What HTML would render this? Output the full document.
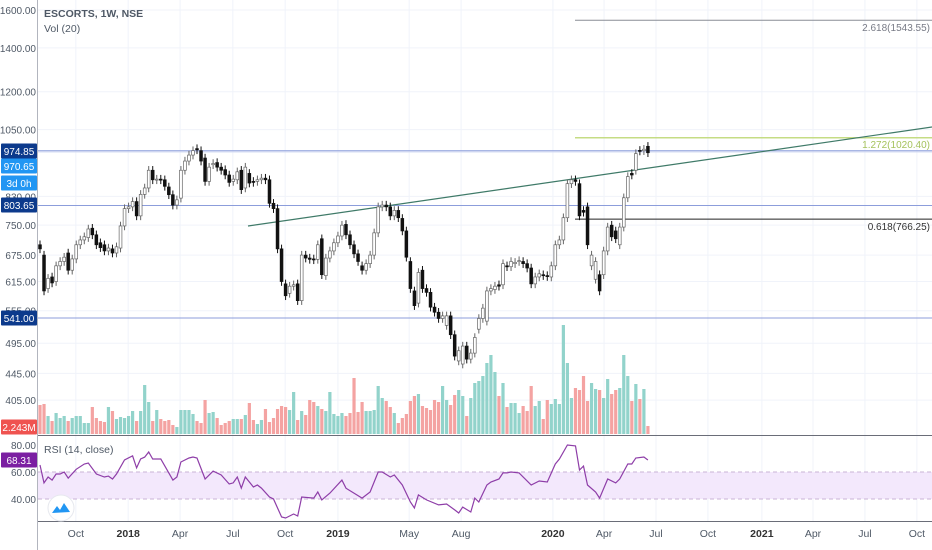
<!DOCTYPE html>
<html><head><meta charset="utf-8">
<style>
html,body{margin:0;padding:0;background:#fff;}
svg{display:block;font-family:"Liberation Sans",sans-serif;}
</style></head>
<body>
<svg id="chart" width="932" height="550" viewBox="0 0 932 550" xmlns="http://www.w3.org/2000/svg">
  <rect x="0" y="0" width="932" height="550" fill="#fff"/>
  <g id="grid"></g>
  <rect x="38" y="472" width="894" height="27" fill="#f3e8fc"/>
  <line x1="38" y1="472" x2="932" y2="472" stroke="#c9b3d6" stroke-dasharray="4,3"/>
  <line x1="38" y1="499" x2="932" y2="499" stroke="#c9b3d6" stroke-dasharray="4,3"/>
  <g id="vol"></g>
  <g id="hlines"></g>
  <g id="candles"></g>
  <g id="rsi"></g>
  <line x1="37.5" y1="0" x2="37.5" y2="550" stroke="#b2b5be"/>
  <line x1="38" y1="435.5" x2="932" y2="435.5" stroke="#6a6d78"/>
  <line x1="38" y1="521.5" x2="932" y2="521.5" stroke="#6a6d78"/>
  <g id="yaxis" font-size="10" fill="#4f5966" text-anchor="end"></g>
  <g id="xaxis" font-size="10.5" fill="#4f5966" text-anchor="middle"></g>
  <text x="44" y="17" font-size="10.5" fill="#4f5966" font-weight="bold">ESCORTS, 1W, NSE</text>
  <text x="44" y="32" font-size="10.5" fill="#4f5966">Vol (20)</text>
  <text x="44" y="453" font-size="10.5" fill="#4f5966">RSI (14, close)</text>
  <text x="930" y="31" font-size="10" fill="#787b86" text-anchor="end">2.618(1543.55)</text>
  <text x="930" y="148" font-size="10" fill="#a5c25c" text-anchor="end">1.272(1020.40)</text>
  <text x="930" y="230" font-size="10" fill="#333" text-anchor="end">0.618(766.25)</text>
  <g id="badges" font-size="10" fill="#fff" text-anchor="middle"></g>
  <g>
    <circle cx="61" cy="508" r="13" fill="#fff" stroke="#e6e8ee"/>
    <path d="M52 513 L57 506 L60 510 L64 503 L70 512 Z" fill="#2196f3"/>
  </g>
</svg>
<script>
const opens = [700,675,600,625,615,650,660,680,640,666,700,712,718,742,725,705,700,685,690,680,692,748,795,800,815,775,836,855,910,880,882,880,858,835,805,825,910,940,960,982,975,950,875,928,935,920,912,895,875,880,910,855,900,
875,875,880,885,880,810,795,690,610,590,605,610,575,675,668,666,665,715,628,668,685,705,722,752,725,700,678,650,640,655,675,730,800,805,800,775,790,768,735,660,595,570,640,600,592,562,552,540,527,545,510,465,460,490,
468,478,520,540,535,595,598,608,608,650,648,655,660,660,655,645,610,625,630,628,625,650,700,712,770,868,880,868,790,800,650,620,630,630,685,750,735,700,745,826,900,910,976,975,990];
const closes = [690,595,622,612,650,660,670,640,666,700,712,720,740,725,700,693,685,692,680,695,748,795,800,815,775,836,855,910,880,882,880,860,835,805,820,910,940,960,975,978,940,875,920,932,920,910,895,872,882,905,850,920,870,
872,880,885,880,810,795,690,615,585,605,608,575,675,668,665,664,700,630,668,685,705,722,750,725,700,678,660,640,655,675,730,800,805,800,775,790,770,735,670,600,565,635,600,592,562,552,540,545,545,510,473,482,490,468,
478,505,540,560,595,600,605,605,655,648,660,658,662,655,645,610,625,632,628,626,650,700,712,770,868,880,875,775,785,700,675,660,595,685,745,720,715,745,826,890,895,965,974,980,968];
const volumes = [29,30,18,13,21,16,18,13,16,18,18,11,11,27,16,13,12,27,23,15,17,16,18,23,13,23,49,32,13,24,15,13,14,9,7,24,24,24,20,13,11,34,21,22,16,9,11,13,15,15,15,19,31,14,10,14,25,12,16,25,28,27,24,42,14,23,19,34,32,28,25,23,42,20,18,
21,18,21,56,22,32,23,23,24,48,36,33,27,21,11,16,20,33,38,40,28,26,24,34,32,48,34,29,39,44,38,18,36,51,53,58,71,79,62,38,51,27,31,31,21,28,23,48,28,33,15,34,30,35,30,109,71,36,46,44,58,33,51,45,44,36,55,40,44,46,79,58,33,50,35,45,8];
const rsiWeek = [0,1,2,3,4,5,6,7,9,11,12,14,16,17,18,19,21,23,24,25,26,27,28,30,33,34,35,37,38,39,41,43,45,47,48,49,50,51,53,54,55,57,58,60,61,63,64,65,68,69,70,72,75,76,80,82,84,85,87,88,90,92,93,94,96,99,101,103,104,105,107,108,109,111,112,114,115,116,117,119,122,124,126,128,129,131,133,134,135,136,138,139,141,143,144,146,147,148,150,151];
const rsiVal = [65.2,51.9,56.3,54,58.5,58.5,60,55.5,62,65.9,66.7,58.5,56.3,57,54.8,58.5,68.9,71.9,63,69.6,71,74.8,69.6,69.6,54,56.3,67.4,70.4,71.1,70.4,54.8,60.7,57.8,51.1,51.9,56.3,48.1,56.3,48.9,50.4,48.1,41.5,40,26.7,25.9,28.9,27.4,41.5,40.7,45.2,39.3,44.4,54,48,40.7,45.2,60,60,56.3,57.8,50.4,37.8,33.3,43,39.3,35.6,36.3,31.9,29.6,34,30.4,40.7,37.8,50.4,52.6,54.8,59.3,59.3,60,59.3,50.4,53.3,52.6,65.9,69.6,80,79.3,61.5,64.4,50.4,45.2,40.7,54.8,51.9,54.8,65.9,65.9,70.4,71.1,68.9];
const priceTicks = [1600,1400,1200,1050,830,750,675,615,555,495,445,405];
const timeLabels = ["Oct","2018","Apr","Jul","Oct","2019","May","Aug","2020","Apr","Jul","Oct","2021","Apr","Jul","Oct"];
const timeWeeks = [8.9,21.9,34.8,47.9,60.9,74,91.7,104.6,127.4,140.1,153,165.9,179.3,192,204.9,217.8];
const rsiTicks = [80,60,40];

const NS="http://www.w3.org/2000/svg";
function mk(tag,attrs,parent){const e=document.createElementNS(NS,tag);for(const k in attrs)e.setAttribute(k,attrs[k]);parent.appendChild(e);return e;}
const xI = i => 40 + i*4.026;
const yP = p => 10 + Math.log(1600/p)*284;
const yV = v => 434 - v;
const yR = v => 472 - (v-60)*1.35;

const grid=document.getElementById('grid');
priceTicks.forEach(p=>{
  const l=mk('line',{x1:38,x2:932,y1:yP(p),y2:yP(p),stroke:'#f0f3fa'},grid);
  
  
});
timeWeeks.forEach(w=>{
  const l=mk('line',{x1:xI(w),x2:xI(w),y1:0,y2:521,stroke:'#f0f3fa'},grid);
  
  
});

const ya=document.getElementById('yaxis');
priceTicks.forEach(p=>{
  const t=mk('text',{x:36,y:yP(p)+4},ya);t.textContent=p.toFixed(2);
  
  
});
rsiTicks.forEach(v=>{
  const t=mk('text',{x:36,y:yR(v)+4},ya);t.textContent=v.toFixed(2);
  
  
});
const xa=document.getElementById('xaxis');
timeLabels.forEach((s,k)=>{
  const t=mk('text',{x:xI(timeWeeks[k]),y:537},xa);t.textContent=s;
  if(/^\d{4}$/.test(s)){t.setAttribute('font-weight','bold');t.setAttribute('fill','#333');}
  
  
});

const hl=document.getElementById('hlines');
[[974.85,'#8c9ddb'],[970.65,'#d6dcf3'],[803.65,'#8c9ddb'],[541,'#8c9ddb']].forEach(([p,c])=>{
  const l=mk('line',{x1:38,x2:932,y1:yP(p),y2:yP(p),stroke:c},hl);
  
  
});
let l;
l=mk('line',{x1:575,x2:932,y1:yP(1543.55),y2:yP(1543.55),stroke:'#8a8d96'},hl);


l=mk('line',{x1:575,x2:932,y1:yP(1020.4),y2:yP(1020.4),stroke:'#c5dc84','stroke-width':1.5},hl);


l=mk('line',{x1:575,x2:932,y1:yP(766.25),y2:yP(766.25),stroke:'#222'},hl);


l=mk('line',{x1:248,y1:226,x2:932,y2:127,stroke:'#3f7a68','stroke-width':1.2},hl);



const vg=document.getElementById('vol');
volumes.forEach((v,i)=>{
  const up=closes[i]>=opens[i];
  const r=mk('rect',{x:xI(i)-1.6,y:yV(v),width:3.2,height:v,fill:up?'#92d3cb':'#f4a3a2'},vg);
  
  
});

const cg=document.getElementById('candles');
opens.forEach((o,i)=>{
  const c=closes[i],up=c>=o,x=xI(i);
  const top=Math.max(o,c)*1.015, bot=Math.min(o,c)*0.985;
  const w=mk('line',{x1:x,x2:x,y1:yP(top),y2:yP(bot),stroke:up?'#666':'#111'},cg);
  
  
  const y1=yP(Math.max(o,c)),y2=yP(Math.min(o,c));
  const b=mk('rect',{x:x-1.4,y:y1,width:2.8,height:Math.max(1,y2-y1),fill:up?'#fff':'#111',stroke:up?'#666':'#111','stroke-width':0.7},cg);
  
  
});

const rg=document.getElementById('rsi');
const pts=rsiWeek.map((w,k)=>xI(w).toFixed(1)+','+yR(rsiVal[k]).toFixed(1)).join(' ');
const pl=mk('polyline',{points:pts,fill:'none',stroke:'#8e3ea8','stroke-width':1.2},rg);



const bg=document.getElementById('badges');
[[151,'#0c3a8c','974.85'],[166,'#2196f3','970.65'],[183,'#2196f3','3d 0h'],[205,'#0c3a8c','803.65'],[318,'#0c3a8c','541.00'],[427,'#ef5350','2.243M'],[460,'#7b1fa2','68.31']].forEach(([y,c,s])=>{
  const r=mk('rect',{x:1,y:y-7.5,width:36,height:15,fill:c,rx:1},bg);
  
  
  const t=mk('text',{x:19,y:y+4},bg);t.textContent=s;
  
  
});
</script>
</body></html>
